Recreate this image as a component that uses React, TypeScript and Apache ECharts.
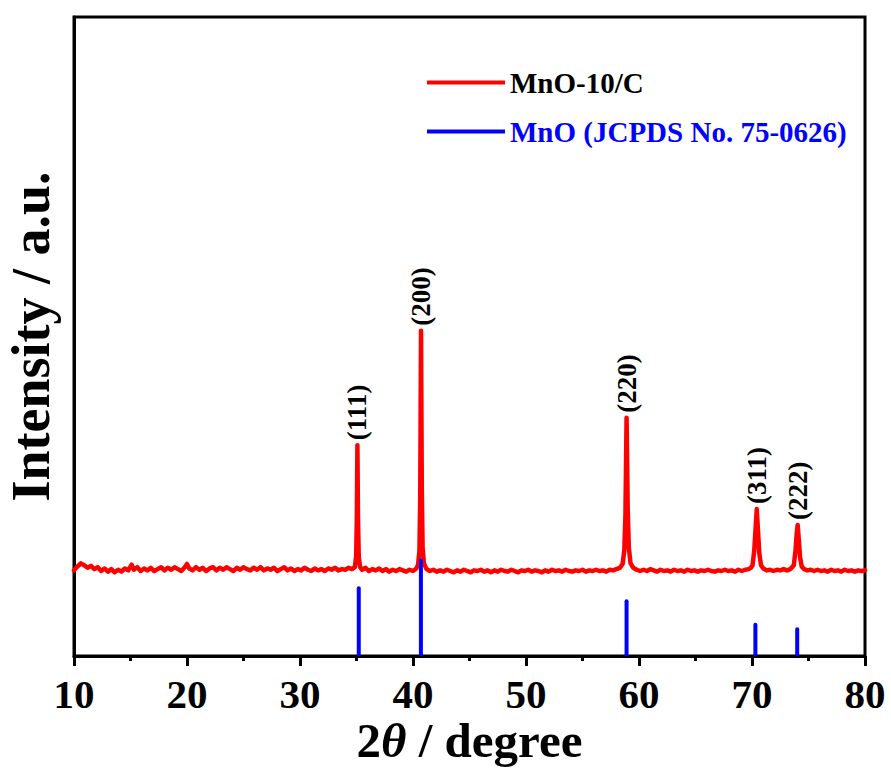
import React, { useEffect, useRef } from "react";
import * as echarts from "echarts";

// Measured XRD pattern of MnO-10/C: [2θ (degree), intensity (a.u.)]
const mnoCPattern: [number, number][] = [
  [10.0, 13.4], [10.3, 14.0], [10.6, 14.5], [10.9, 14.2], [11.2, 13.8], [11.5, 14.1], [11.8, 13.6], [12.1, 13.9],
  [12.4, 13.3], [12.7, 13.7], [13.0, 13.2], [13.3, 13.6], [13.6, 13.1], [13.9, 13.5], [14.2, 13.2], [14.5, 13.7],
  [14.8, 13.4], [15.1, 14.3], [15.3, 13.5], [15.6, 13.9], [15.9, 13.3], [16.2, 13.7], [16.5, 13.4], [16.8, 13.8],
  [17.1, 13.3], [17.4, 13.6], [17.7, 13.9], [18.0, 13.4], [18.3, 13.8], [18.6, 13.5], [18.9, 13.9], [19.2, 13.6],
  [19.5, 13.3], [19.8, 13.9], [20.0, 14.4], [20.2, 13.7], [20.5, 13.4], [20.8, 13.9], [21.1, 13.5], [21.4, 13.8],
  [21.7, 13.3], [22.0, 13.7], [22.3, 13.9], [22.6, 13.4], [22.9, 13.8], [23.2, 13.5], [23.5, 13.9], [23.8, 13.6],
  [24.1, 13.3], [24.4, 13.8], [24.7, 13.5], [25.0, 13.9], [25.3, 13.6], [25.6, 13.4], [25.9, 13.8], [26.2, 13.5],
  [26.5, 13.9], [26.8, 13.4], [27.1, 13.7], [27.4, 13.5], [27.7, 13.8], [28.0, 13.3], [28.3, 13.6], [28.6, 13.9],
  [28.9, 13.4], [29.2, 13.7], [29.5, 13.3], [29.8, 13.6], [30.1, 13.4], [30.4, 13.8], [30.7, 13.5], [31.0, 13.3],
  [31.3, 13.7], [31.6, 13.4], [31.9, 13.6], [32.2, 13.3], [32.5, 13.7], [32.8, 13.5], [33.1, 13.8], [33.4, 13.4],
  [33.7, 13.6], [34.0, 13.5], [34.3, 13.8], [34.6, 13.6],
  [34.85, 13.9], [34.97, 15.6], [35.03, 21.5], [35.08, 33.0], [35.13, 22.0], [35.2, 15.5], [35.32, 13.9],
  [35.5, 13.5], [35.8, 13.8], [36.1, 13.3], [36.4, 13.6], [36.7, 13.4], [37.0, 13.7], [37.3, 13.3], [37.6, 13.6],
  [37.9, 13.2], [38.2, 13.5], [38.5, 13.3], [38.8, 13.6], [39.1, 13.4], [39.4, 13.2], [39.7, 13.5], [40.0, 13.3],
  [40.3, 13.7],
  [40.45, 14.3], [40.57, 16.5], [40.64, 25.0], [40.71, 50.9], [40.78, 26.0], [40.85, 17.0], [40.97, 14.5],
  [41.2, 13.6], [41.5, 13.3], [41.8, 13.5], [42.1, 13.2], [42.4, 13.4], [42.7, 13.2], [43.0, 13.5], [43.3, 13.3],
  [43.6, 13.1], [43.9, 13.4], [44.2, 13.2], [44.5, 13.5], [44.8, 13.3], [45.1, 13.1], [45.4, 13.4], [45.7, 13.3],
  [46.0, 13.5], [46.3, 13.2], [46.6, 13.4], [46.9, 13.1], [47.2, 13.4], [47.5, 13.2], [47.8, 13.5], [48.1, 13.3],
  [48.4, 13.2], [48.7, 13.5], [49.0, 13.3], [49.3, 13.1], [49.6, 13.4], [49.9, 13.3], [50.2, 13.5], [50.5, 13.2],
  [50.8, 13.4], [51.1, 13.3], [51.4, 13.1], [51.7, 13.4], [52.0, 13.2], [52.3, 13.5], [52.6, 13.3], [52.9, 13.4],
  [53.2, 13.2], [53.5, 13.5], [53.8, 13.3], [54.1, 13.2], [54.4, 13.4], [54.7, 13.3], [55.0, 13.5], [55.3, 13.2],
  [55.6, 13.4], [55.9, 13.3], [56.2, 13.5], [56.5, 13.3], [56.8, 13.4], [57.1, 13.2], [57.4, 13.5], [57.7, 13.4],
  [58.0, 13.6], [58.3, 13.8],
  [58.55, 14.4], [58.7, 16.5], [58.8, 22.0], [58.9, 37.3], [59.0, 23.0], [59.1, 17.0], [59.25, 14.5],
  [59.5, 13.8], [59.8, 13.5], [60.1, 13.3], [60.4, 13.5], [60.7, 13.3], [61.0, 13.6], [61.3, 13.4], [61.6, 13.2],
  [61.9, 13.5], [62.2, 13.3], [62.5, 13.4], [62.8, 13.2], [63.1, 13.5], [63.4, 13.3], [63.7, 13.4], [64.0, 13.2],
  [64.3, 13.5], [64.6, 13.3], [64.9, 13.4], [65.2, 13.2], [65.5, 13.4], [65.8, 13.3], [66.1, 13.5], [66.4, 13.3],
  [66.7, 13.2], [67.0, 13.4], [67.3, 13.3], [67.6, 13.5], [67.9, 13.3], [68.2, 13.4], [68.5, 13.2], [68.8, 13.5],
  [69.1, 13.3], [69.4, 13.5], [69.7, 13.6], [69.9, 13.8],
  [70.05, 14.2], [70.2, 16.5], [70.3, 19.5], [70.42, 23.0], [70.55, 19.0], [70.65, 16.0], [70.8, 14.2],
  [71.0, 13.7], [71.3, 13.4], [71.6, 13.5], [71.9, 13.3], [72.2, 13.5], [72.5, 13.4], [72.8, 13.6], [73.1, 13.4],
  [73.4, 13.6],
  [73.7, 14.2], [73.85, 16.5], [73.95, 19.0], [74.04, 20.5], [74.15, 18.0], [74.25, 15.5], [74.4, 14.0],
  [74.6, 13.6], [74.9, 13.4], [75.2, 13.5], [75.5, 13.3], [75.8, 13.5], [76.1, 13.3], [76.4, 13.4], [76.7, 13.2],
  [77.0, 13.5], [77.3, 13.3], [77.6, 13.4], [77.9, 13.2], [78.2, 13.5], [78.5, 13.3], [78.8, 13.4], [79.1, 13.2],
  [79.4, 13.4], [79.7, 13.3], [80.0, 13.4],
];

// Reference pattern MnO (JCPDS No. 75-0626)
const refTheta = [35.2, 40.7, 58.9, 70.3, 74.0];
const refIntensity = [10.9, 15.3, 8.9, 5.2, 4.5];

// Peak indexing labels
const peakTheta = [35.08, 40.71, 58.9, 70.42, 74.04];
const peakIntensity = [33.0, 50.9, 37.3, 23.0, 20.5];
const peakHkl = ["(111)", "(200)", "(220)", "(311)", "(222)"];

const seriesNames = ["MnO-10/C", "MnO (JCPDS No. 75-0626)"];
const xTicks = { min: 10, max: 80, interval: 10 };

const SERIF = "'Liberation Serif', 'Times New Roman', serif";

export default function App() {
  const ref = useRef<HTMLDivElement>(null);
  useEffect(() => {
    if (!ref.current) return;
    const chart = echarts.init(ref.current, null, { renderer: "svg" });
    chart.setOption({
      animation: false,
      backgroundColor: "#ffffff",
      grid: {
        left: 74,
        right: 26,
        top: 17,
        bottom: 113,
        show: true,
        borderColor: "#000",
        borderWidth: 3,
        outerBoundsMode: "none",
        containLabel: false,
      },
      legend: {
        orient: "vertical",
        left: 422,
        top: 63,
        itemWidth: 78,
        itemHeight: 4,
        itemGap: 20,
        icon: "rect",
        selectedMode: false,
        textStyle: { fontFamily: SERIF, fontWeight: "bold", fontSize: 29, color: "#000" },
        data: [
          { name: seriesNames[0], textStyle: { color: "#000000" } },
          { name: seriesNames[1], textStyle: { color: "#0000ff" } },
        ],
      },
      xAxis: {
        type: "value",
        min: xTicks.min,
        max: xTicks.max,
        interval: xTicks.interval,
        name: "{n|2}{i|θ}{n| / degree}",
        nameLocation: "middle",
        nameGap: 60,
        nameMoveOverlap: false,
        nameTextStyle: {
          lineHeight: 49,
          rich: {
            n: { fontFamily: SERIF, fontWeight: "bold", fontSize: 49, lineHeight: 49, color: "#000" },
            i: { fontFamily: SERIF, fontWeight: "bold", fontStyle: "italic", fontSize: 49, lineHeight: 49, color: "#000" },
          },
        },
        axisLine: { show: true, lineStyle: { color: "#000", width: 3 } },
        axisTick: { show: true, inside: false, length: 10, lineStyle: { color: "#000", width: 3 } },
        minorTick: { show: true, splitNumber: 2, length: 5, lineStyle: { color: "#000", width: 3 } },
        splitLine: { show: false },
        axisLabel: {
          margin: 17,
          fontFamily: SERIF,
          fontWeight: "bold",
          fontSize: 41,
          color: "#000",
        },
      },
      yAxis: {
        type: "value",
        min: 0,
        max: 100,
        name: "Intensity / a.u.",
        nameLocation: "middle",
        nameGap: 16,
        nameRotate: 90,
        nameMoveOverlap: false,
        nameTextStyle: { fontFamily: SERIF, fontWeight: "bold", fontSize: 54, lineHeight: 54, color: "#000" },
        axisLine: { show: true, lineStyle: { color: "#000", width: 3 } },
        axisTick: { show: false },
        axisLabel: { show: false },
        splitLine: { show: false },
      },
      series: [
        {
          name: seriesNames[0],
          type: "line",
          data: mnoCPattern,
          showSymbol: false,
          symbol: "none",
          color: "#ff0000",
          lineStyle: { color: "#ff0000", width: 4.5, join: "round", cap: "round" },
          z: 2,
        },
        {
          name: seriesNames[1],
          type: "bar",
          data: refTheta.map((t, i) => [t, refIntensity[i]]),
          barWidth: 4,
          color: "#0000ff",
          itemStyle: { color: "#0000ff", borderRadius: [2, 2, 0, 0] },
          z: 3,
        },
        {
          name: "hkl",
          type: "scatter",
          data: peakTheta.map((t, i) => [t, peakIntensity[i]]),
          symbolSize: 0,
          itemStyle: { color: "rgba(0,0,0,0)" },
          silent: true,
          label: {
            show: true,
            position: "top",
            distance: 5,
            rotate: 90,
            align: "left",
            verticalAlign: "middle",
            formatter: (p: any) => peakHkl[p.dataIndex],
            fontFamily: SERIF,
            fontWeight: "bold",
            fontSize: 27,
            color: "#000000",
            opacity: 1,
            textBorderWidth: 0,
          },
          z: 4,
        },
      ],
    });
    return () => chart.dispose();
  }, []);
  return (
    <div
      ref={ref}
      style={{ position: "fixed", left: 0, top: 0, width: 891, height: 769, background: "#fff" }}
    />
  );
}
